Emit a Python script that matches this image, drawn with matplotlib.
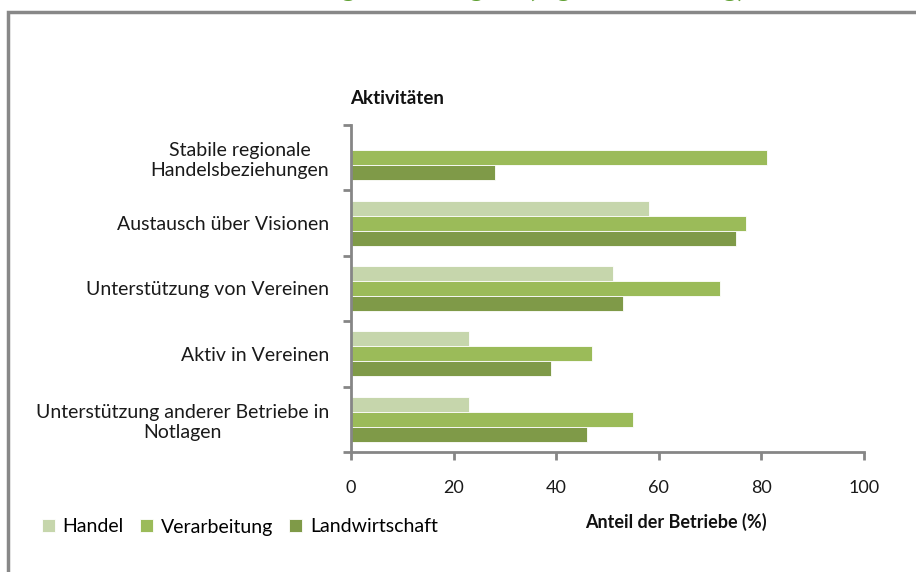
import matplotlib
matplotlib.use("Agg")
import matplotlib.pyplot as plt
from matplotlib.patches import Rectangle
import numpy as np

plt.rcParams['font.family'] = ['Lato', 'DejaVu Sans']

categories = [
    "Stabile regionale\nHandelsbeziehungen",
    "Austausch über Visionen",
    "Unterstützung von Vereinen",
    "Aktiv in Vereinen",
    "Unterstützung anderer Betriebe in\nNotlagen",
]
series_names = ["Handel", "Verarbeitung", "Landwirtschaft"]
handel = [0, 58, 51, 23, 23]
verarbeitung = [81, 77, 72, 47, 55]
landwirtschaft = [28, 75, 53, 39, 46]
xticks = [0, 20, 40, 60, 80, 100]
colors = ["#C6D6AC", "#9BBB59", "#7F9A48"]

W, H = 916, 572
fig = plt.figure(figsize=(W / 100, H / 100), dpi=100)

# outer frame (cropped chart area border)
fig.patches.append(Rectangle((8 / W, -0.1), 1.2, 1.1 - 12 / H, transform=fig.transFigure,
                             fill=False, edgecolor="#888888", linewidth=2.5, clip_on=False))

# clipped title (only descenders visible)
fig.text(480 / W, 1 + 3.5 / H, "Vernetzung in der Region (eigene Erhebung)", ha="center",
         va="baseline", fontsize=19.5, fontweight="bold", color="#5FA032")

ax = fig.add_axes([351 / W, 1 - 452 / H, (864 - 351) / W, (452 - 125) / H])
n = len(categories)
y = np.arange(n)[::-1].astype(float)
h = 0.23
for vals, off, c, name in zip([handel, verarbeitung, landwirtschaft], [h, 0, -h], colors, series_names):
    ax.barh(y + off, vals, height=h, color=c, edgecolor="white", linewidth=0.6, label=name)

ax.set_xlim(0, 100)
ax.set_ylim(-0.5, n - 0.5)
ax.set_xticks(xticks)
ax.set_xticklabels([str(t) for t in xticks])
ax.set_yticks(y)
ax.set_yticklabels(categories, multialignment="center")
ax.set_yticks(np.arange(n + 1) - 0.5, minor=True)
ax.tick_params(axis="y", which="major", length=0, pad=16, labelsize=14, labelcolor="#1a1a1a")
ax.tick_params(axis="y", which="minor", length=6, width=2, color="#868686", direction="out")
ax.tick_params(axis="x", which="major", length=6, width=2, color="#868686", direction="out",
               pad=14, labelsize=13, labelcolor="#1a1a1a")
for s in ["top", "right"]:
    ax.spines[s].set_visible(False)
for s in ["left", "bottom"]:
    ax.spines[s].set_color("#868686")
    ax.spines[s].set_linewidth(2)

fig.text(350 / W, 1 - 98 / H, "Aktivitäten", ha="left", va="center", fontsize=13.5,
         fontweight="bold", color="#111111")
fig.text(676 / W, 1 - 522 / H, "Anteil der Betriebe (%)", ha="center", va="center",
         fontsize=13, fontweight="bold", color="#111111")

handles, labels = ax.get_legend_handles_labels()
fig.legend(handles, labels, loc="center left", bbox_to_anchor=(42 / W, 1 - 527 / H), ncol=3,
           frameon=False, fontsize=14, handlelength=0.65, handleheight=0.65,
           handletextpad=0.4, columnspacing=0.85, borderaxespad=0, borderpad=0)

fig.savefig("out.png", dpi=100)
